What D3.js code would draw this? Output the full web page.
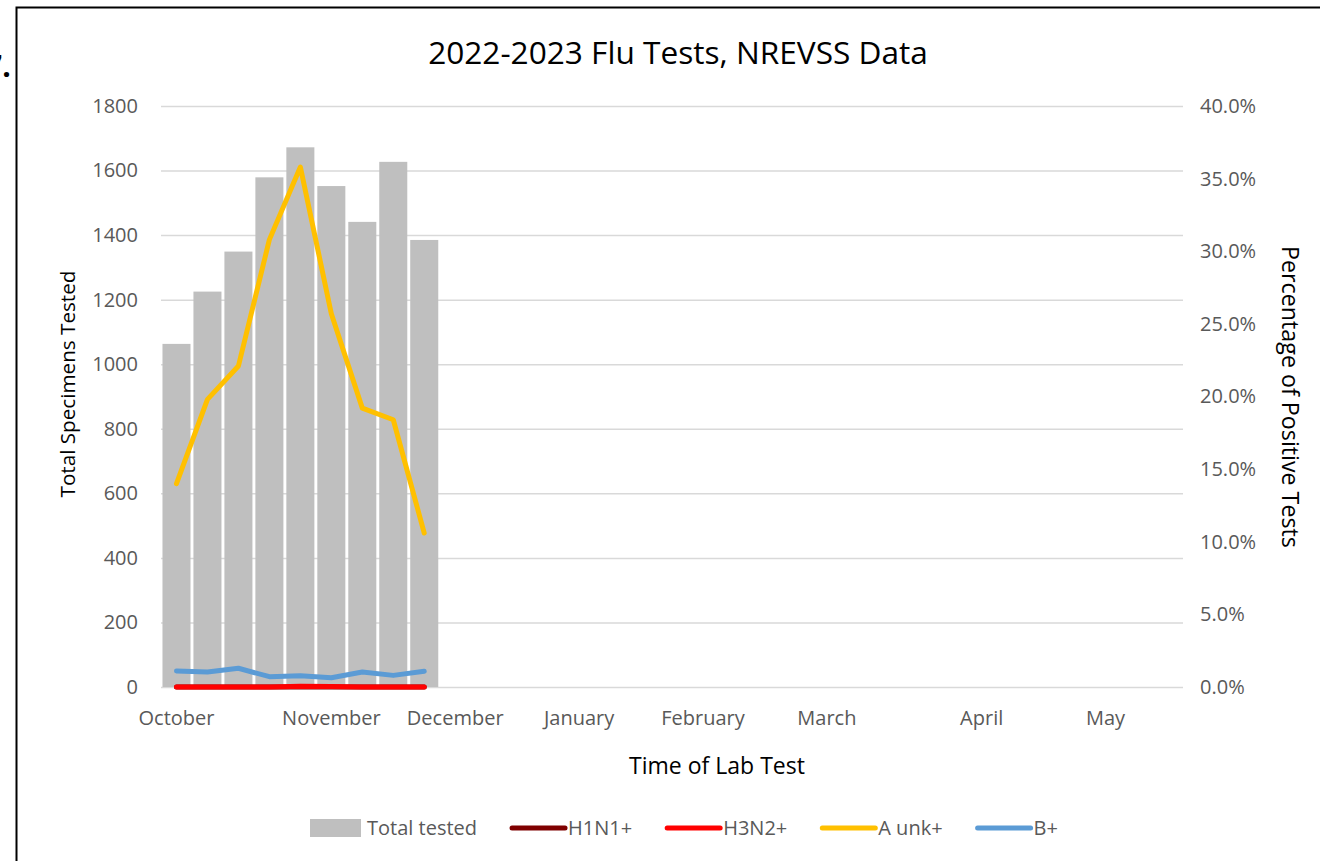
<!DOCTYPE html>
<html>
<head>
<meta charset="utf-8">
<script src="https://cdn.jsdelivr.net/npm/d3@7"></script>
<style>
  body { margin: 0; background: #fff; }
  text { font-family: "Open Sans", sans-serif; }
</style>
</head>
<body>
<div id="chart-container"></div>
<script>
const W = 1320, H = 861;
const margin = {top: 106, right: 137, bottom: 174, left: 161};
const width = W - margin.left - margin.right;
const height = H - margin.top - margin.bottom;

// weekly categories, Oct 2022 - May 2023 (only month starts carry a label)
const weekLabels = ["October", "", "", "", "", "November", "", "", "", "December", "", "", "", "January",
  "", "", "", "February", "", "", "", "March", "", "", "", "", "April", "", "", "", "May", "", ""];

// total specimens tested per week
const totalTested = [1063, 1225, 1349, 1579, 1672, 1552, 1441, 1627, 1385];

// percent positive per week
const h1n1 = [0, 0, 0, 0, 0, 0, 0, 0, 0];
const h3n2 = [0, 0, 0, 0, 0.0005, 0.0003, 0, 0, 0];
const aUnk = [0.140, 0.198, 0.221, 0.308, 0.358, 0.257, 0.192, 0.184, 0.106];
const bPos = [0.011, 0.0103, 0.0129, 0.0071, 0.0078, 0.0064, 0.0103, 0.008, 0.0108];

const leftTicks = [0, 200, 400, 600, 800, 1000, 1200, 1400, 1600, 1800];
const rightTicks = [0, 0.05, 0.10, 0.15, 0.20, 0.25, 0.30, 0.35, 0.40];

const seriesLines = [
  {name: "H1N1+", values: h1n1, color: "#7f0000"},
  {name: "H3N2+", values: h3n2, color: "#ff0000"},
  {name: "A unk+", values: aUnk, color: "#ffc000"},
  {name: "B+", values: bPos, color: "#5b9bd5"}
];

var root = d3.select("#chart-container")
    .append("svg")
    .attr("width", W)
    .attr("height", H);

// frame of the embedded chart, cut by the page edge
root.append("rect")
    .attr("x", 16.5)
    .attr("y", 7.5)
    .attr("width", W)
    .attr("height", H)
    .attr("fill", "none")
    .attr("stroke", "black")
    .attr("stroke-width", 2);

// list number left of the frame, mostly off the page
root.append("text")
    .attr("x", -15)
    .attr("y", 77)
    .style("font-size", "30px")
    .style("font-weight", "bold")
    .attr("fill", "black")
    .text("7.");

var svg = root.append("g")
    .attr("transform", `translate(${margin.left}, ${margin.top})`);

var xScale = d3.scaleBand()
    .domain(d3.range(weekLabels.length))
    .range([0, width])
    .paddingInner(0.095)
    .paddingOuter(0.0475);

var yLeft = d3.scaleLinear().domain([0, 1800]).range([height, 0]);
var yRight = d3.scaleLinear().domain([0, 0.40]).range([height, 0]);

// gridlines
svg.append("g")
    .attr("class", "grid")
    .call(d3.axisLeft(yLeft).tickValues(leftTicks).tickSize(-width).tickFormat(""))
    .call(g => g.select(".domain").remove())
    .selectAll(".tick line")
    .attr("stroke", "#d9d9d9")
    .attr("stroke-width", 1.5);

// left axis
svg.append("g")
    .call(d3.axisLeft(yLeft).tickValues(leftTicks).tickSize(0).tickPadding(23).tickFormat(d3.format("d")))
    .call(g => g.select(".domain").remove())
    .selectAll("text")
    .attr("fill", "#595959")
    .style("font-size", "20px");

// right axis
svg.append("g")
    .attr("transform", `translate(${width}, 0)`)
    .call(d3.axisRight(yRight).tickValues(rightTicks).tickSize(0).tickPadding(17).tickFormat(d3.format(".1%")))
    .call(g => g.select(".domain").remove())
    .selectAll("text")
    .attr("fill", "#595959")
    .style("font-size", "20px");

// bottom axis
svg.append("g")
    .attr("transform", `translate(0, ${height})`)
    .call(d3.axisBottom(xScale).tickSize(0).tickPadding(24).tickFormat(i => weekLabels[i]))
    .call(g => g.select(".domain").remove())
    .selectAll("text")
    .attr("fill", "#595959")
    .style("font-size", "20px");

// bars
svg.selectAll(".bar")
    .data(totalTested)
    .enter().append("rect")
    .attr("class", "bar")
    .attr("x", (d, i) => xScale(i))
    .attr("width", xScale.bandwidth())
    .attr("y", d => yLeft(d))
    .attr("height", d => height - yLeft(d))
    .attr("fill", "#bfbfbf");

// percentage lines
var pctLine = d3.line()
    .x((d, i) => xScale(i) + xScale.bandwidth() / 2)
    .y(d => yRight(d));

svg.selectAll(".pct-line")
    .data(seriesLines)
    .enter().append("path")
    .attr("class", "pct-line")
    .attr("fill", "none")
    .attr("stroke", d => d.color)
    .attr("stroke-width", 5)
    .attr("stroke-linecap", "round")
    .attr("stroke-linejoin", "round")
    .attr("d", d => pctLine(d.values));

// scale font so a text spans the wanted length
function fitText(sel, target) {
    var size = parseFloat(sel.style("font-size"));
    var len = sel.node().getComputedTextLength();
    sel.style("font-size", (size * target / len) + "px");
}

// titles
root.append("text")
    .attr("x", 678)
    .attr("y", 64)
    .attr("text-anchor", "middle")
    .style("font-size", "30px")
    .attr("fill", "black")
    .text("2022-2023 Flu Tests, NREVSS Data")
    .call(fitText, 500);

root.append("text")
    .attr("transform", "translate(75, 384) rotate(-90)")
    .attr("text-anchor", "middle")
    .style("font-size", "22px")
    .attr("fill", "black")
    .text("Total Specimens Tested")
    .call(fitText, 227);

root.append("text")
    .attr("transform", "translate(1282, 397) rotate(90)")
    .attr("text-anchor", "middle")
    .style("font-size", "22px")
    .attr("fill", "black")
    .text("Percentage of Positive Tests")
    .call(fitText, 302);

root.append("text")
    .attr("x", 717)
    .attr("y", 774)
    .attr("text-anchor", "middle")
    .style("font-size", "22px")
    .attr("fill", "black")
    .text("Time of Lab Test")
    .call(fitText, 176);

// legend
var legend = root.append("g").attr("transform", "translate(0, 828)");
var lx = 310;
var legendItems = [{name: "Total tested", color: "#bfbfbf", bar: true}].concat(seriesLines);
legendItems.forEach(function (item) {
    if (item.bar) {
        legend.append("rect")
            .attr("x", lx).attr("y", -9)
            .attr("width", 51).attr("height", 18)
            .attr("fill", item.color);
        lx += 57;
    } else {
        legend.append("line")
            .attr("x1", lx + 2).attr("x2", lx + 55)
            .attr("stroke", item.color)
            .attr("stroke-width", 5)
            .attr("stroke-linecap", "round");
        lx += 58;
    }
    var t = legend.append("text")
        .attr("x", lx)
        .attr("dy", "0.35em")
        .attr("fill", "#595959")
        .style("font-size", "20px")
        .text(item.name);
    lx += t.node().getComputedTextLength() + 33;
});
</script>
</body>
</html>
